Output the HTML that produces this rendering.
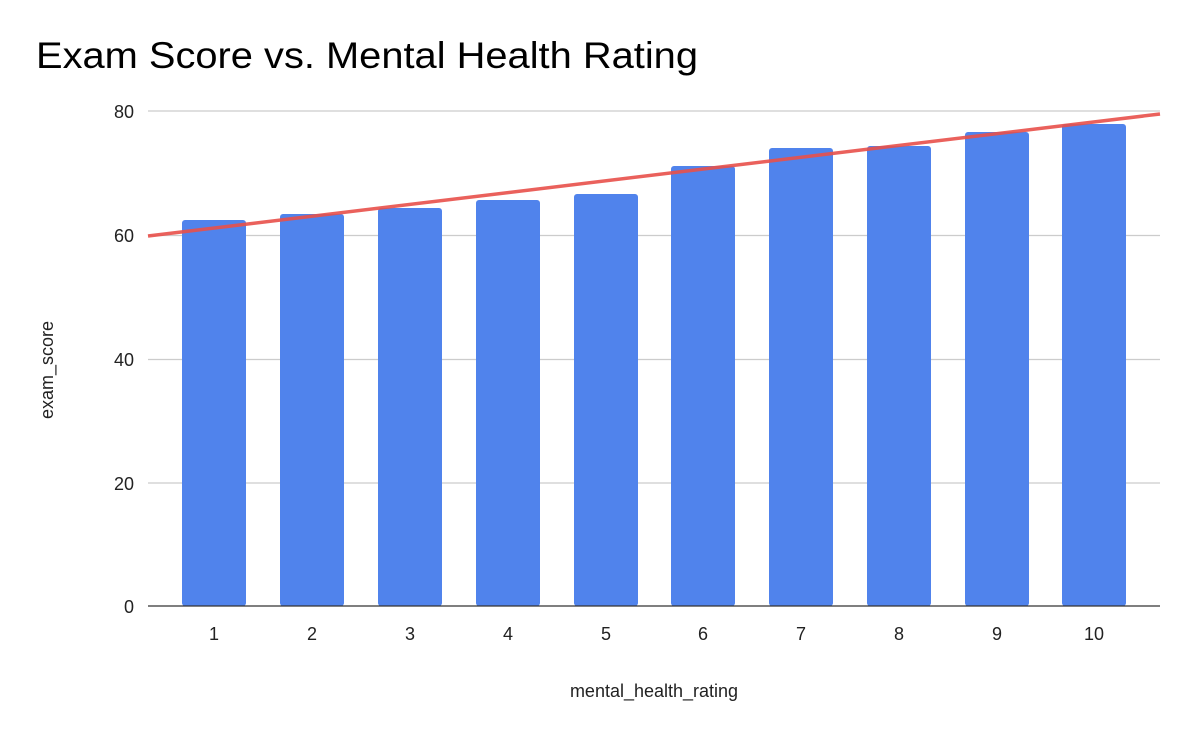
<!DOCTYPE html>
<html><head><style>body{margin:0;background:#fff}svg{display:block}</style></head><body>
<svg width="1194" height="730" xmlns="http://www.w3.org/2000/svg" font-family="Liberation Sans, Arial, sans-serif">
<rect width="1194" height="730" fill="#fff"/>
<text x="36" y="68" font-size="37" fill="#000" textLength="662" lengthAdjust="spacingAndGlyphs">Exam Score vs. Mental Health Rating</text>
<g stroke="#cccccc" stroke-width="1.3">
<line x1="148" y1="111" x2="1160" y2="111"/>
<line x1="148" y1="235.5" x2="1160" y2="235.5"/>
<line x1="148" y1="359.5" x2="1160" y2="359.5"/>
<line x1="148" y1="483" x2="1160" y2="483"/>
</g>
<g font-size="18" fill="#222" text-anchor="end">
<text x="134" y="118">80</text>
<text x="134" y="242">60</text>
<text x="134" y="366">40</text>
<text x="134" y="490">20</text>
<text x="134" y="613">0</text>
</g>
<g fill="#5083ec">
<rect x="182" y="220" width="64" height="386" rx="3"/>
<rect x="280" y="214" width="64" height="392" rx="3"/>
<rect x="378" y="208" width="64" height="398" rx="3"/>
<rect x="476" y="200" width="64" height="406" rx="3"/>
<rect x="574" y="194" width="64" height="412" rx="3"/>
<rect x="671" y="166" width="64" height="440" rx="3"/>
<rect x="769" y="148" width="64" height="458" rx="3"/>
<rect x="867" y="146" width="64" height="460" rx="3"/>
<rect x="965" y="132" width="64" height="474" rx="3"/>
<rect x="1062" y="124" width="64" height="482" rx="3"/>
</g>
<line x1="148" y1="606" x2="1160" y2="606" stroke="#333" stroke-width="1.3"/>
<line x1="148" y1="236" x2="1160" y2="114" stroke="#e8504a" stroke-opacity="0.9" stroke-width="3.5"/>
<g font-size="18" fill="#222" text-anchor="middle">
<text x="214" y="640">1</text>
<text x="312" y="640">2</text>
<text x="410" y="640">3</text>
<text x="508" y="640">4</text>
<text x="606" y="640">5</text>
<text x="703" y="640">6</text>
<text x="801" y="640">7</text>
<text x="899" y="640">8</text>
<text x="997" y="640">9</text>
<text x="1094" y="640">10</text>
</g>
<text x="654" y="697" font-size="18" fill="#222" text-anchor="middle">mental_health_rating</text>
<text transform="translate(53,370) rotate(-90)" font-size="18" fill="#222" text-anchor="middle">exam_score</text>
</svg>
</body></html>
